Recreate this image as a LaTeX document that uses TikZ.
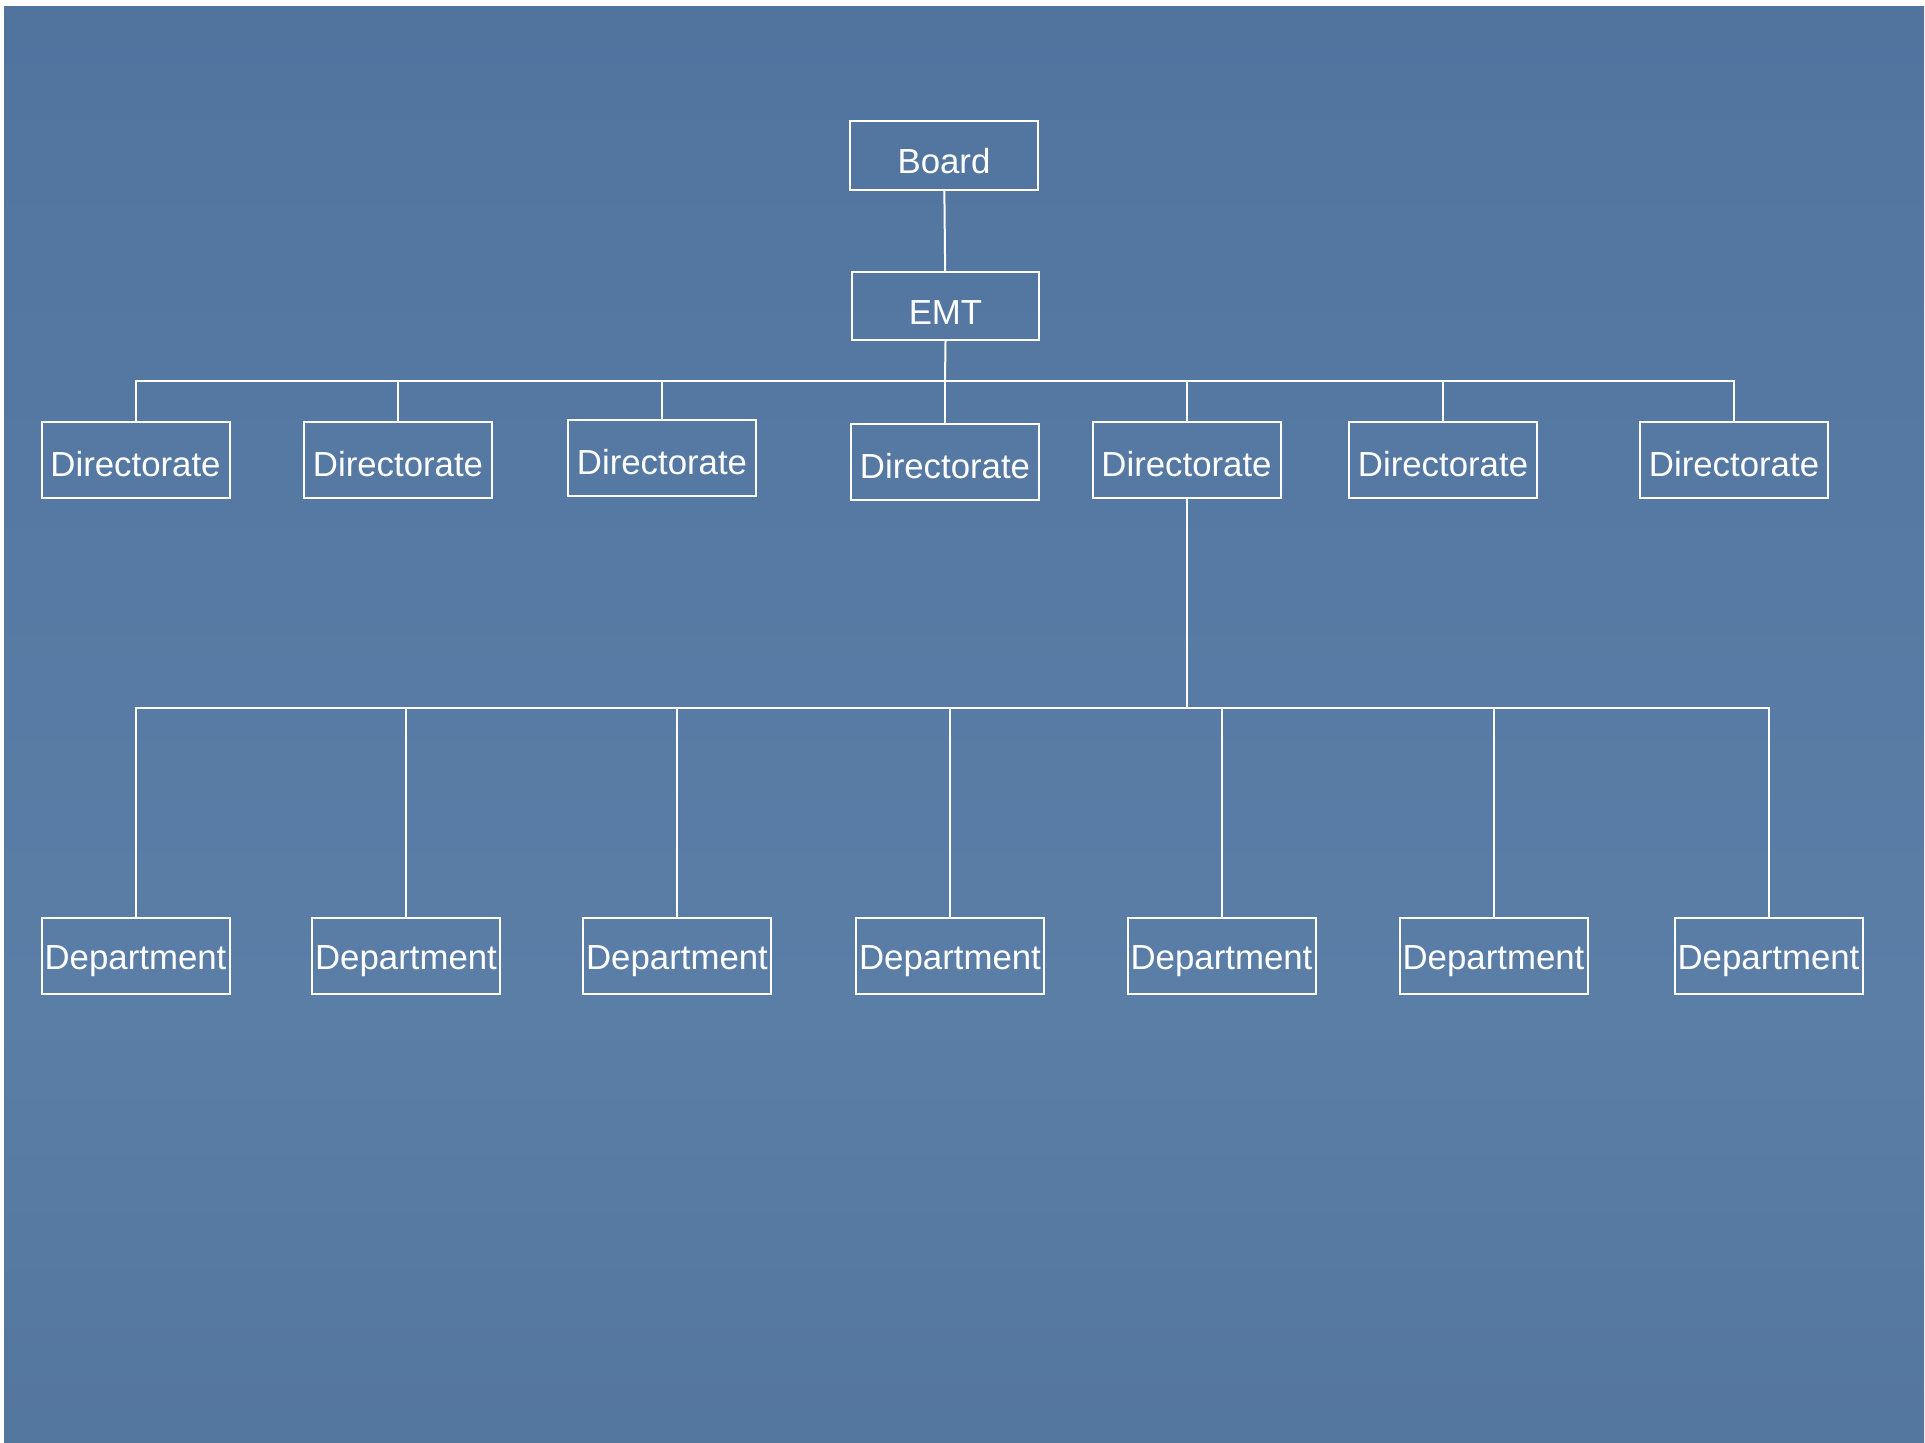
\documentclass[tikz,border=0pt]{standalone}
\usepackage{fontspec}
\setmainfont{Liberation Sans}
\usepackage{tikz}
\usetikzlibrary{positioning}

\definecolor{bgtop}{RGB}{66,101,145}
\definecolor{bgupper}{RGB}{72,108,152}
\definecolor{bgmid}{RGB}{82,118,160}
\definecolor{bglight}{RGB}{90,126,166}
\definecolor{bglow}{RGB}{82,116,156}
\definecolor{bgbottom}{RGB}{74,107,147}
\pgfdeclareverticalshading{slidebg}{100bp}{color(0bp)=(bgbottom); color(10bp)=(bgbottom); color(20bp)=(bglow); color(40bp)=(bglight); color(70bp)=(bgmid); color(90bp)=(bgupper); color(100bp)=(bgtop)}

\tikzset{
  orgbox/.style={draw=white, line width=1pt, text=white, inner sep=0pt,
    minimum width=94pt, minimum height=38pt, text depth=0pt,
    font=\fontsize{17.4}{20}\selectfont},
  topbox/.style={orgbox, text height=18.4pt},
  dirbox/.style={orgbox, text height=16.4pt},
  deptbox/.style={orgbox, text height=13.9pt},
  orgline/.style={draw=white, line width=1pt}
}

\begin{document}
\begin{tikzpicture}[x=0.5pt,y=-0.5pt]
            \useasboundingbox (0,0) rectangle (1925,1442);
            \fill[white] (0,0) rectangle (1925,1442);
            \shade[shading=slidebg] (4,6) rectangle (1924,1442);

            \node[topbox, minimum height=34.5pt] (board) at (944,155) {Board};
            \node[topbox, minimum width=93.5pt, minimum height=34pt] (emt) at (945.5,306) {EMT};

            \node[dirbox] (dir1) at (135.5,460) {Directorate};
            \node[dirbox] (dir2) at (398,460) {Directorate};
            \node[dirbox] (dir3) at (662,458) {Directorate};
            \node[dirbox] (dir4) at (945,462) {Directorate};
            \node[dirbox] (dir5) at (1186.5,460) {Directorate};
            \node[dirbox] (dir6) at (1443,460) {Directorate};
            \node[dirbox] (dir7) at (1734,460) {Directorate};

            \node[deptbox] (dept1) at (135.5,956) {Department};
            \node[deptbox] (dept2) at (406,956) {Department};
            \node[deptbox] (dept3) at (677,956) {Department};
            \node[deptbox] (dept4) at (950,956) {Department};
            \node[deptbox] (dept5) at (1221.5,956) {Department};
            \node[deptbox] (dept6) at (1493.5,956) {Department};
            \node[deptbox] (dept7) at (1768.5,956) {Department};

            \coordinate (dirbus) at (945,381);
            \coordinate (deptbus) at (1186.5,708);

            \draw[orgline] (board) -- (emt);
            \draw[orgline] (emt.south) -- (dirbus);
            \draw[orgline] (dirbus) -| (dir1.north);
            \draw[orgline] (dirbus) -| (dir2.north);
            \draw[orgline] (dirbus) -| (dir3.north);
            \draw[orgline] (dirbus) -- (dir4.north);
            \draw[orgline] (dirbus) -| (dir5.north);
            \draw[orgline] (dirbus) -| (dir6.north);
            \draw[orgline] (dirbus) -| (dir7.north);

            \draw[orgline] (dir5.south) -- (deptbus);
            \draw[orgline] (deptbus) -| (dept1.north);
            \draw[orgline] (deptbus) -| (dept2.north);
            \draw[orgline] (deptbus) -| (dept3.north);
            \draw[orgline] (deptbus) -| (dept4.north);
            \draw[orgline] (deptbus) -| (dept5.north);
            \draw[orgline] (deptbus) -| (dept6.north);
            \draw[orgline] (deptbus) -| (dept7.north);
        \end{tikzpicture}
\end{document}
